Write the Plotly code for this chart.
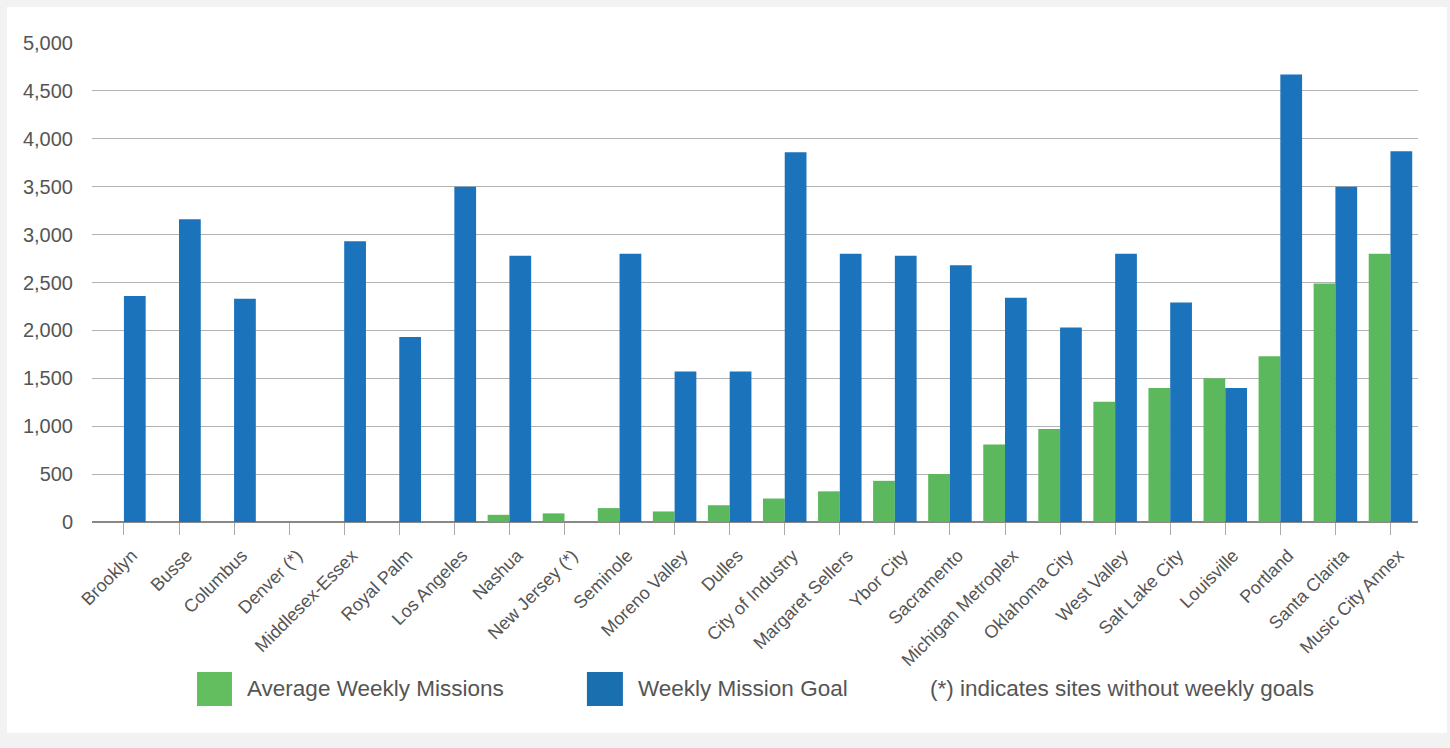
import plotly.graph_objects as go

categories = ["Brooklyn", "Busse", "Columbus", "Denver (*)", "Middlesex-Essex", "Royal Palm",
              "Los Angeles", "Nashua", "New Jersey (*)", "Seminole", "Moreno Valley", "Dulles",
              "City of Industry", "Margaret Sellers", "Ybor City", "Sacramento",
              "Michigan Metroplex", "Oklahoma City", "West Valley", "Salt Lake City",
              "Louisville", "Portland", "Santa Clarita", "Music City Annex"]

avg_weekly_missions = [None, None, None, None, None, None, None, 75, 90, 145, 110, 175,
                       245, 320, 430, 500, 810, 970, 1255, 1400, 1500, 1730, 2490, 2800]

weekly_mission_goal = [2360, 3160, 2330, None, 2930, 1930, 3500, 2780, None, 2800, 1570, 1570,
                       3860, 2800, 2780, 2680, 2340, 2030, 2800, 2290, 1400, 4670, 3500, 3870]

y_ticks = [0, 500, 1000, 1500, 2000, 2500, 3000, 3500, 4000, 4500, 5000]
y_tick_labels = ["0", "500", "1,000", "1,500", "2,000", "2,500", "3,000", "3,500", "4,000", "4,500", "5,000"]

legend_labels = ["Average Weekly Missions", "Weekly Mission Goal"]
note_text = "(*) indicates sites without weekly goals"

W, H = 1450, 748
L, R, T, B = 92, 1418.2, 43, 522
FONT = "Liberation Sans, Arial, sans-serif"
TXT = "#555555"
GREEN = "#5cb85c"
BLUE = "#1b74bb"


def px(x):
    return (x - L) / (R - L)


def py(y):
    return (B - y) / (B - T)


fig = go.Figure()
fig.add_trace(go.Bar(x=categories, y=avg_weekly_missions, name=legend_labels[0],
                     marker=dict(color=GREEN, line=dict(width=0))))
fig.add_trace(go.Bar(x=categories, y=weekly_mission_goal, name=legend_labels[1],
                     marker=dict(color=BLUE, line=dict(width=0))))

shapes = [
    dict(type="rect", xref="paper", yref="paper", x0=px(7), x1=px(1447), y0=py(7), y1=py(733),
         fillcolor="white", line=dict(width=0), layer="below"),
    dict(type="rect", xref="paper", yref="paper", x0=px(197), x1=px(232), y0=py(672), y1=py(706),
         fillcolor="#63be5f", line=dict(width=0)),
    dict(type="rect", xref="paper", yref="paper", x0=px(587), x1=px(623), y0=py(672), y1=py(706),
         fillcolor="#1a6faf", line=dict(width=0)),
]

LEG_FONT = dict(size=22.5, color=TXT, family=FONT)
annotations = [
    dict(text=legend_labels[0], xref="paper", yref="paper", x=px(245), y=py(689),
         xanchor="left", yanchor="middle", showarrow=False, font=LEG_FONT),
    dict(text=legend_labels[1], xref="paper", yref="paper", x=px(636), y=py(689),
         xanchor="left", yanchor="middle", showarrow=False, font=LEG_FONT),
    dict(text=note_text, xref="paper", yref="paper", x=px(928), y=py(689),
         xanchor="left", yanchor="middle", showarrow=False, font=LEG_FONT),
]

fig.update_layout(
    width=W, height=H,
    margin=dict(l=L, r=W - R, t=T, b=H - B, pad=0),
    paper_bgcolor="#f2f2f2",
    plot_bgcolor="white",
    barmode="group",
    bargap=0.21,
    bargroupgap=0,
    showlegend=False,
    font=dict(family=FONT, color=TXT),
    shapes=shapes,
    annotations=annotations,
    xaxis=dict(
        range=[-0.58, 23.5],
        tickangle=-45,
        tickfont=dict(size=18, color=TXT, family=FONT),
        ticks="outside", ticklen=12, tickcolor="#aaaaaa", tickwidth=1,
        ticklabelshift=8, ticklabelstandoff=3,
        showline=False, showgrid=False, zeroline=False,
    ),
    yaxis=dict(
        range=[0, 5000],
        tickvals=y_ticks, ticktext=y_tick_labels,
        tickfont=dict(size=20, color=TXT, family=FONT),
        ticks="outside", ticklen=14, tickcolor="rgba(0,0,0,0)",
        showgrid=True, gridcolor="#b3b3b3", gridwidth=1,
        zeroline=True, zerolinecolor="#888888", zerolinewidth=2,
        showline=False,
    ),
)

fig.write_html("out.html")
